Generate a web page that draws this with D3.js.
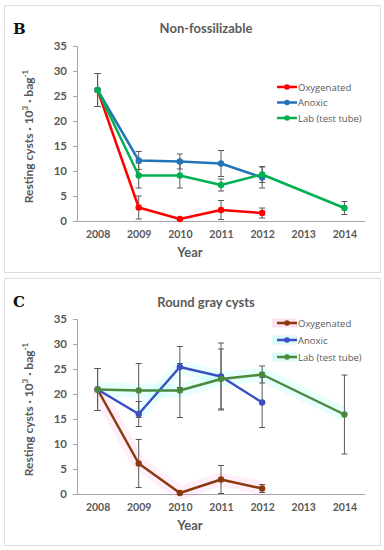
<!DOCTYPE html>
<html>
<head>
<meta charset="utf-8">
<script src="https://cdn.jsdelivr.net/npm/d3@7"></script>
<style>
  body { margin: 0; background: #fff; }
  svg { display: block; font-family: Lato, "Open Sans", sans-serif; }
</style>
</head>
<body>
<div id="chart"></div>
<script>
// Categories and ticks
const years = ['2008', '2009', '2010', '2011', '2012', '2013', '2014'];
const yTicks = [0, 5, 10, 15, 20, 25, 30, 35];
const seriesNames = ['Oxygenated', 'Anoxic', 'Lab (test tube)'];

// Panel B - Non-fossilizable
const bOxy = [26.2, 2.7, 0.4, 2.2, 1.6, null, null];
const bOxyErr = [3.3, 2.3, 0, 1.9, 1.0, null, null];
const bAnox = [26.2, 12.1, 11.9, 11.5, 8.7, null, null];
const bAnoxErr = [3.3, 1.8, 1.5, 2.6, 2.1, null, null];
const bLab = [26.2, 9.1, 9.1, 7.2, 9.3, null, 2.6];
const bLabErr = [3.3, 2.5, 2.5, 1.2, 1.6, null, 1.3];

// Panel C - Round gray cysts
const cOxy = [20.9, 6.1, 0.2, 2.9, 1.1, null, null];
const cOxyErr = [4.2, 4.8, 0, 2.8, 0.8, null, null];
const cAnox = [20.9, 16.0, 25.4, 23.5, 18.3, null, null];
const cAnoxErr = [4.2, 2.5, 4.1, 6.7, 5.0, null, null];
const cLab = [20.9, 20.7, 20.7, 23.0, 23.9, null, 15.9];
const cLabErr = [4.2, 5.4, 5.4, 6.0, 1.7, null, 7.9];

const W = 384, H = 550;
const svg = d3.select('#chart').append('svg')
    .attr('width', W)
    .attr('height', H);

const TEXT = '#595959';

function drawPanel(opt) {
    const g = svg.append('g').attr('transform', `translate(0,${opt.top})`);

    // panel frame
    g.append('rect')
        .attr('x', 4.5).attr('y', 0.5)
        .attr('width', 376).attr('height', opt.h)
        .attr('fill', '#fff')
        .attr('stroke', '#dedede');

    // panel letter
    g.append('text')
        .attr('x', 13).attr('y', 29)
        .attr('font-family', '"DejaVu Serif", "Liberation Serif", serif')
        .attr('font-weight', 'bold')
        .attr('font-size', 15)
        .attr('fill', '#111')
        .text(opt.letter);

    // title
    g.append('text')
        .attr('x', 206).attr('y', opt.titleY)
        .attr('text-anchor', 'middle')
        .attr('font-weight', 'bold')
        .attr('font-size', 13)
        .attr('fill', TEXT)
        .text(opt.title);

    const x = d3.scalePoint().domain(years).range([77, 365]).padding(0.5);
    const y = d3.scaleLinear().domain([0, 35]).range([opt.y0, opt.y35]);

    // y axis
    const yAxis = g.append('g')
        .attr('transform', 'translate(77,0)')
        .call(d3.axisLeft(y).tickValues(yTicks).tickSize(4).tickPadding(6));
    yAxis.select('.domain').attr('stroke', '#a6a6a6');
    yAxis.selectAll('.tick line').attr('stroke', '#a6a6a6');
    yAxis.selectAll('.tick text')
        .attr('fill', TEXT).attr('font-size', 11.5).attr('font-weight', 'bold')
        .attr('font-family', 'Lato, sans-serif');

    // x axis
    const xAxis = g.append('g')
        .attr('transform', `translate(0,${opt.y0})`)
        .call(d3.axisBottom(x).tickSize(0).tickPadding(10));
    xAxis.select('.domain').attr('stroke', '#a6a6a6').attr('d', 'M77,0.5H365');
    xAxis.selectAll('.tick text')
        .attr('fill', TEXT).attr('font-size', 10.5).attr('font-weight', 'bold')
        .attr('font-family', 'Lato, sans-serif');

    // axis titles
    g.append('text')
        .attr('x', 190).attr('y', opt.y0 + 36)
        .attr('text-anchor', 'middle')
        .attr('font-weight', 'bold').attr('font-size', 13)
        .attr('fill', TEXT)
        .text('Year');

    const yl = g.append('text')
        .attr('transform', `translate(33,${(opt.y0 + opt.y35) / 2 + 3}) rotate(-90)`)
        .attr('text-anchor', 'middle')
        .attr('font-weight', 'bold').attr('font-size', 12)
        .attr('fill', TEXT);
    yl.append('tspan').text('Resting cysts · 10');
    yl.append('tspan').attr('dy', -5).attr('font-size', 8).text('3');
    yl.append('tspan').attr('dy', 5).text(' · bag');
    yl.append('tspan').attr('dy', -5).attr('font-size', 8).text('-1');

    const line = d3.line().x(d => x(d.year)).y(d => y(d.v));

    const series = opt.series.map(s => ({
        ...s,
        pts: s.values.map((v, i) => ({ year: years[i], v, e: s.err[i] })).filter(d => d.v != null)
    }));

    // soft highlight behind lines (panel C)
    series.filter(s => s.glow).forEach(s => {
        g.append('path')
            .datum(s.glow.pts ? s.pts.slice(s.glow.pts[0], s.glow.pts[1]) : s.pts)
            .attr('d', line)
            .attr('fill', 'none')
            .attr('stroke', s.glow.color)
            .attr('stroke-opacity', s.glow.opacity)
            .attr('stroke-width', 14);
    });

    // error bars
    series.forEach(s => {
        const eb = g.append('g');
        s.pts.filter(d => d.e).forEach(d => {
            const cx = x(d.year);
            eb.append('line')
                .attr('x1', cx).attr('x2', cx)
                .attr('y1', y(d.v - d.e)).attr('y2', y(d.v + d.e))
                .attr('stroke', '#595959').attr('stroke-width', 1);
            [d.v - d.e, d.v + d.e].forEach(val => {
                eb.append('line')
                    .attr('x1', cx - 3).attr('x2', cx + 3)
                    .attr('y1', y(val)).attr('y2', y(val))
                    .attr('stroke', '#595959').attr('stroke-width', 1);
            });
        });
    });

    // lines and markers
    series.forEach(s => {
        g.append('path')
            .datum(s.pts)
            .attr('d', line)
            .attr('fill', 'none')
            .attr('stroke', s.color)
            .attr('stroke-width', 2.5)
            .attr('stroke-linejoin', 'round');
        g.selectAll(null)
            .data(s.pts)
            .join('circle')
            .attr('cx', d => x(d.year))
            .attr('cy', d => y(d.v))
            .attr('r', 3.2)
            .attr('fill', s.color);
    });

    // legend
    series.forEach((s, i) => {
        const ly = opt.legY + i * opt.legStep;
        if (s.legGlow) {
            g.append('rect')
                .attr('x', 272).attr('y', ly - 4.5)
                .attr('width', 25).attr('height', 9)
                .attr('fill', s.legGlow);
        }
        g.append('line')
            .attr('x1', 277).attr('x2', 297)
            .attr('y1', ly).attr('y2', ly)
            .attr('stroke', s.color).attr('stroke-width', 2.5);
        g.append('circle')
            .attr('cx', 287).attr('cy', ly).attr('r', 2.8)
            .attr('fill', s.color);
        g.append('text')
            .attr('x', 298).attr('y', ly + 3.5)
            .attr('font-family', '"Open Sans", Lato, sans-serif')
            .attr('font-size', 9.5)
            .attr('fill', TEXT)
            .text(s.name);
    });
}

drawPanel({
    top: 5, h: 267, letter: 'B', title: 'Non-fossilizable', titleY: 28,
    y0: 216, y35: 41, legY: 82, legStep: 15.5,
    series: [
        { name: seriesNames[0], values: bOxy, err: bOxyErr, color: '#ff0000' },
        { name: seriesNames[1], values: bAnox, err: bAnoxErr, color: '#2475b8' },
        { name: seriesNames[2], values: bLab, err: bLabErr, color: '#00b050' }
    ]
});

drawPanel({
    top: 278, h: 267, letter: 'C', title: 'Round gray cysts', titleY: 29,
    y0: 216, y35: 41, legY: 45, legStep: 17,
    series: [
        { name: seriesNames[0], values: cOxy, err: cOxyErr, color: '#8a3a0e',
          glow: { color: '#ff66cc', opacity: 0.1 }, legGlow: '#fde0f2' },
        { name: seriesNames[1], values: cAnox, err: cAnoxErr, color: '#3b4fc4',
          glow: { color: '#55ffee', opacity: 0.12, pts: [1, 4] }, legGlow: '#ddfaf6' },
        { name: seriesNames[2], values: cLab, err: cLabErr, color: '#4a8a3c',
          glow: { color: '#55ffee', opacity: 0.14 }, legGlow: '#ddfaf6' }
    ]
});
</script>
</body>
</html>
